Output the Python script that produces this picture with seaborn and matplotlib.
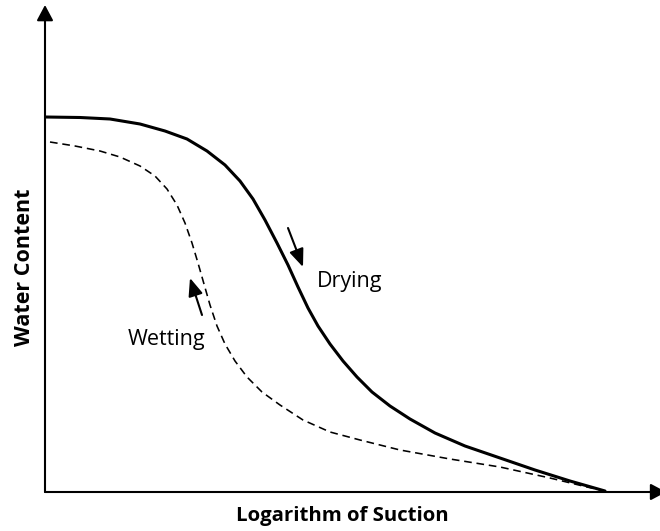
import matplotlib
matplotlib.use("Agg")
import matplotlib.pyplot as plt
import seaborn as sns
import pandas as pd

# --------- Datos (curva esquematica de retencion de agua) ---------
drying_x = [0, 35, 65, 95, 120, 142, 162, 180, 195, 208, 220, 232, 243, 253,
            263, 273, 285, 298, 312, 327, 345, 365, 390, 420, 455, 490, 525, 560]
drying_y = [375, 374.5, 373, 368, 361, 353, 341, 327, 311, 293, 272, 249, 227, 205,
            184, 166, 148, 131, 115, 100, 86, 73, 59, 46, 34, 22, 11, 1]

wetting_x = [5, 30, 55, 75, 95, 110, 122, 132, 140, 147, 153, 159, 165, 172,
             180, 190, 202, 217, 235, 258, 285, 315, 355, 405, 455, 505, 542, 560]
wetting_y = [350, 346, 341, 335, 326, 316, 303, 287, 269, 249, 229, 208, 187, 166,
             148, 131, 115, 100, 87, 72, 60, 52, 42, 33, 25, 14, 5, 1]

x_label = "Logarithm of Suction"
y_label = "Water Content"
drying_label = "Drying"
wetting_label = "Wetting"

df_dry = pd.DataFrame({"suction": drying_x, "water": drying_y})
df_wet = pd.DataFrame({"suction": wetting_x, "water": wetting_y})

sns.set_style("white")
plt.rcParams["font.family"] = ["Open Sans", "DejaVu Sans"]

fig = plt.figure(figsize=(6.6, 5.31), dpi=100)
ax = fig.add_axes([45 / 660, 39 / 531, 615 / 660, 487 / 531])

sns.lineplot(data=df_dry, x="suction", y="water", sort=False, color="black",
             linewidth=2.2, ax=ax)
sns.lineplot(data=df_wet, x="suction", y="water", sort=False, color="black",
             linewidth=1.15, ax=ax)
ax.lines[0].set_solid_joinstyle("round")
ax.lines[-1].set_dash_joinstyle("round")
ax.lines[-1].set_dashes([4.8, 3])

ax.set_xlim(0, 615)
ax.set_ylim(0, 487)
ax.set_xticks([])
ax.set_yticks([])
ax.set_xlabel("")
ax.set_ylabel("")
for s in ax.spines.values():
    s.set_visible(False)

# ejes con flecha
flecha = dict(arrowstyle="-|>,head_length=0.47,head_width=0.25", color="black",
              lw=1.5, mutation_scale=20, shrinkA=0, shrinkB=0)
ax.annotate("", xy=(0, 1), xytext=(0, 0), xycoords="axes fraction",
            arrowprops=flecha, annotation_clip=False)
ax.annotate("", xy=(1.01, 0), xytext=(0, 0), xycoords="axes fraction",
            arrowprops=flecha, annotation_clip=False)

# flechas de direccion
dir_flecha = dict(arrowstyle="-|>,head_length=0.54,head_width=0.22", color="black",
                  lw=1.5, mutation_scale=20, shrinkA=0, shrinkB=0)
ax.annotate("", xy=(258, 225), xytext=(243, 264), arrowprops=dir_flecha)
ax.annotate("", xy=(145, 214), xytext=(157, 177), arrowprops=dir_flecha)

ax.text(272, 210, drying_label, fontsize=15.5, va="center", ha="left", color="black")
ax.text(83, 152, wetting_label, fontsize=15.5, va="center", ha="left", color="black")

fig.text(342 / 660, 1 - 516 / 531, x_label, fontsize=14.7, fontweight="bold",
         ha="center", va="center", color="black")
fig.text(25 / 660, 1 - 267 / 531, y_label, fontsize=15.5, fontweight="bold",
         ha="center", va="center", rotation=90, color="black")

fig.savefig("out.png", dpi=100)
